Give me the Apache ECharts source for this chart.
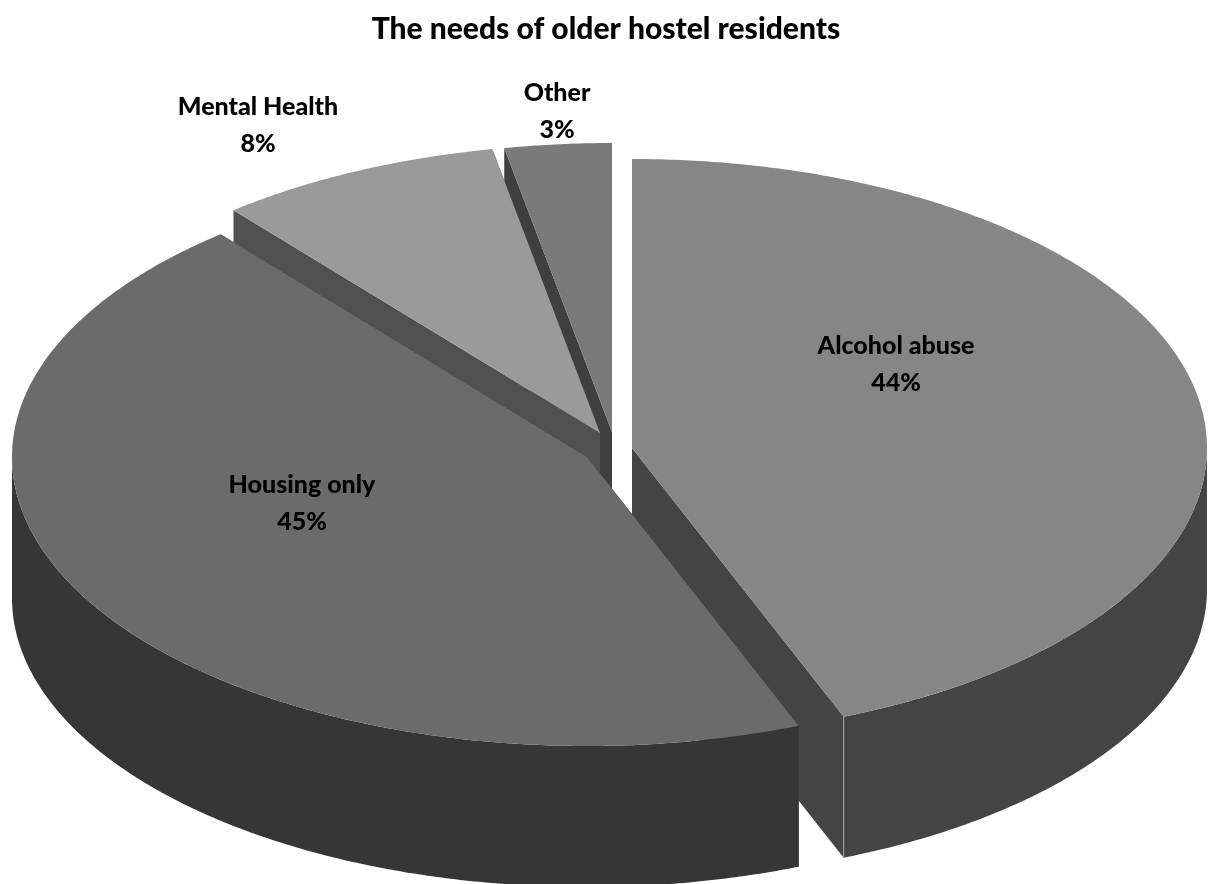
<!DOCTYPE html>
<html>
<head>
<meta charset="utf-8">
<title>The needs of older hostel residents</title>
<script src="https://cdn.jsdelivr.net/npm/echarts@6/dist/echarts.min.js"></script>
<style>
  html, body { margin: 0; padding: 0; background: #ffffff; }
  #chart { width: 1208px; height: 884px; }
</style>
</head>
<body>
<div id="chart"></div>
<script>
// Survey shares, clockwise from twelve o'clock
const categories = ['Alcohol abuse', 'Housing only', 'Mental Health', 'Other'];
const shares = [44, 45, 8, 3];

// Tilted-disc geometry, in pixels
const radiusX = 575;
const radiusY = 289;
const depth = 141;

// Where each exploded wedge has its apex
const apexes = [[632, 448], [587, 457], [600, 433], [612, 432]];
// Painted back to front, so the wedges overlap correctly
const paintOrder = [3, 2, 0, 1];
// Top, cut-face and rim fills per wedge
const topFills = ['#868686', '#6b6b6b', '#9a9a9a', '#7a7a7a'];
const faceFills = ['#444444', '#363636', '#505050', '#3f3f3f'];
const rimFills = ['#444444', '#363636', '#505050', '#3f3f3f'];
// Label centres
const labelAnchors = [[896, 364], [302, 503], [258, 125], [557, 111]];

const total = shares.reduce((a, b) => a + b, 0);

function startShare(i) {
  return shares.slice(0, i).reduce((a, b) => a + b, 0);
}

// Point on the rim at a clockwise angle measured from the top of the disc
function rimPoint(apex, angle, drop) {
  return [
    apex[0] + radiusX * Math.sin(angle),
    apex[1] - radiusY * Math.cos(angle) + drop
  ];
}

function arcPoints(apex, from, to, drop) {
  const steps = Math.max(2, Math.ceil(Math.abs(to - from) * 120));
  const pts = [];
  for (let k = 0; k <= steps; k++) {
    pts.push(rimPoint(apex, from + (to - from) * k / steps, drop));
  }
  return pts;
}

function renderWedge(params, api) {
  const i = api.value(1);
  const share = api.value(0);
  const apex = apexes[i];
  const from = startShare(i) / total * Math.PI * 2;
  const to = from + share / total * Math.PI * 2;
  const layer = paintOrder.indexOf(i) * 10;
  const children = [];

  // Cut faces along both straight edges
  [from, to].forEach(function (edge) {
    const outer = rimPoint(apex, edge, 0);
    const outerLow = rimPoint(apex, edge, depth);
    children.push({
      type: 'polygon', z2: layer,
      shape: { points: [apex, outer, outerLow, [apex[0], apex[1] + depth]] },
      style: { fill: faceFills[i] }
    });
  });

  // Outer wall, only where it faces the viewer
  const wallFrom = Math.max(from, Math.PI / 2);
  const wallTo = Math.min(to, Math.PI * 1.5);
  if (wallTo > wallFrom) {
    const wall = arcPoints(apex, wallFrom, wallTo, 0)
      .concat(arcPoints(apex, wallTo, wallFrom, depth));
    children.push({
      type: 'polygon', z2: layer + 1,
      shape: { points: wall },
      style: { fill: rimFills[i] }
    });
  }

  // Pale highlight on the vertical corner of the wedges that show one
  if (i === 0 || i === 2) {
    const corner = rimPoint(apex, i === 0 ? to : from, 0);
    children.push({
      type: 'line', z2: layer + 3,
      shape: { x1: corner[0], y1: corner[1], x2: corner[0], y2: corner[1] + (i === 0 ? depth : 28) },
      style: { stroke: '#a8a8a8', lineWidth: 1 }
    });
  }

  // Top surface
  children.push({
    type: 'polygon', z2: layer + 2,
    shape: { points: [apex].concat(arcPoints(apex, from, to, 0)) },
    style: { fill: topFills[i] }
  });

  // Category name and percentage
  children.push({
    type: 'text', z2: 100,
    style: {
      x: labelAnchors[i][0],
      y: labelAnchors[i][1],
      text: categories[i] + '\n' + share + '%',
      fill: '#000000',
      font: '900 25px Lato',
      lineHeight: 37,
      align: 'center',
      verticalAlign: 'middle'
    }
  });

  return { type: 'group', children: children };
}

const chart = echarts.init(document.getElementById('chart'), null, { renderer: 'canvas' });
chart.setOption({
  animation: false,
  backgroundColor: '#ffffff',
  title: {
    text: 'The needs of older hostel residents',
    left: 601,
    top: 9,
    textAlign: 'center',
    textStyle: { fontFamily: 'Lato', fontWeight: 900, fontSize: 30, color: '#000000' }
  },
  series: [{
    type: 'custom',
    coordinateSystem: 'none',
    silent: true,
    renderItem: renderWedge,
    data: shares.map((v, i) => [v, i])
  }]
});
</script>
</body>
</html>
